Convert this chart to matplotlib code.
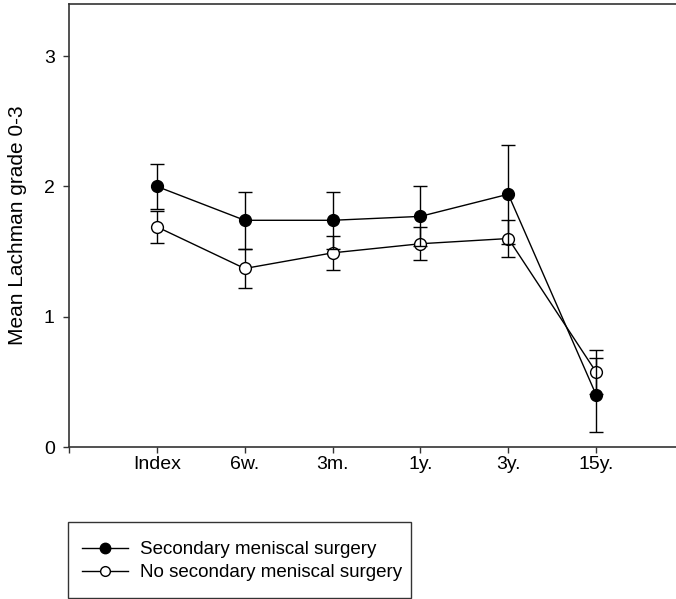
import matplotlib
matplotlib.use("Agg")
import matplotlib.pyplot as plt
from matplotlib.lines import Line2D
from matplotlib.patches import Rectangle

plt.rcParams['font.family'] = ['Liberation Sans', 'DejaVu Sans']

categories = ["Index", "6w.", "3m.", "1y.", "3y.", "15y."]
sec_mean = [2.00, 1.74, 1.74, 1.77, 1.94, 0.40]
sec_err = [0.17, 0.22, 0.22, 0.23, 0.38, 0.285]
nosec_mean = [1.69, 1.37, 1.49, 1.56, 1.60, 0.575]
nosec_err = [0.125, 0.15, 0.13, 0.125, 0.145, 0.17]
labels = ["Secondary meniscal surgery", "No secondary meniscal surgery"]

W, H = 676, 599
fig = plt.figure(figsize=(W / 100, H / 100), dpi=100)
ax_left, ax_right, ax_top, ax_bottom = 69, 684, 4, 447
ax = fig.add_axes([ax_left / W, 1 - ax_bottom / H, (ax_right - ax_left) / W, (ax_bottom - ax_top) / H])

x = list(range(1, len(categories) + 1))
common = dict(color="black", lw=1.0, ecolor="black", elinewidth=1.0, capsize=4.7, capthick=1.0,
              markersize=8.5, markeredgecolor="black", markeredgewidth=1.0)
ax.errorbar(x, nosec_mean, yerr=nosec_err, fmt="-o", markerfacecolor="white", zorder=3, **common)
ax.errorbar(x, sec_mean, yerr=sec_err, fmt="-o", markerfacecolor="black", zorder=4, **common)

ax.set_xlim(0, 7)
ax.set_ylim(0, 3.4)
ax.set_xticks([0] + x)
ax.set_xticklabels([""] + categories)
ax.set_yticks([0, 1, 2, 3])
ax.set_yticklabels(["0", "1", "2", "3"])
ax.tick_params(axis="both", direction="out", length=4.3, width=1.0, color="#333333", labelsize=14)
ax.tick_params(axis="y", pad=6)
ax.tick_params(axis="x", pad=2)
for s in ax.spines.values():
    s.set_color("#333333")
    s.set_linewidth(1.2)
ax.set_ylabel("Mean Lachman grade 0-3", fontsize=15, labelpad=12)

# legend box
fig.add_artist(Rectangle((68 / W, 1 - 598 / H), (411 - 68) / W, (598 - 522) / H,
                         transform=fig.transFigure, facecolor="white", edgecolor="#333333", lw=1.0))
handles = [
    Line2D([], [], color="black", lw=1.0, marker="o", markersize=7.5, markerfacecolor="black", markeredgecolor="black"),
    Line2D([], [], color="black", lw=1.0, marker="o", markersize=7, markerfacecolor="white", markeredgecolor="black"),
]
leg = fig.legend(handles, labels, loc="upper left", bbox_to_anchor=(68 / W, 1 - 527 / H),
                 fontsize=13.5, frameon=False,
                 handlelength=2.45, handletextpad=0.64, labelspacing=0.32, borderpad=0.75, borderaxespad=0)

fig.savefig("out.png", dpi=100)
